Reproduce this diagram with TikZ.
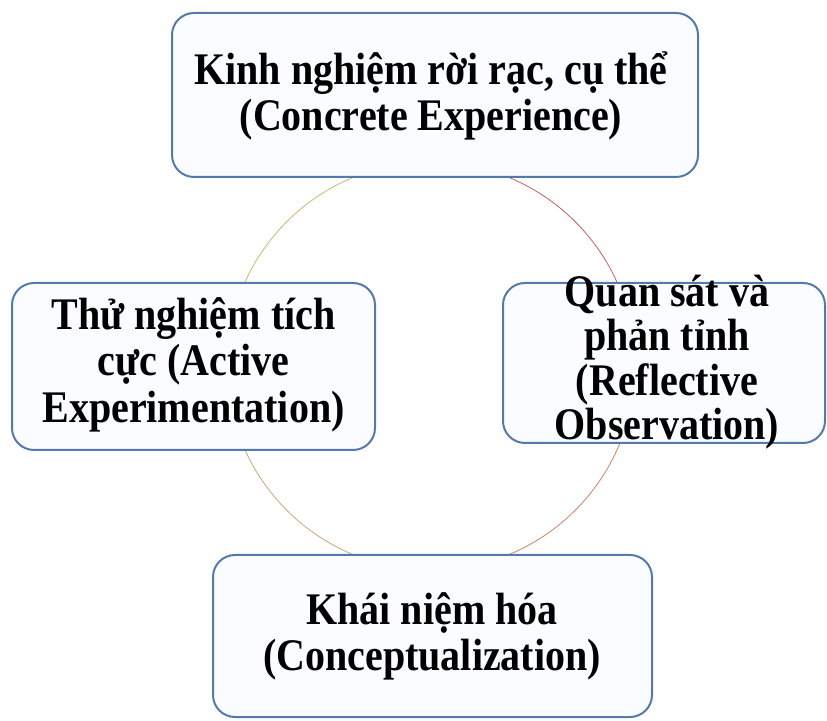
\documentclass[tikz,border=0pt]{standalone}
\usepackage{fontspec}
\setmainfont{Liberation Serif}
\usetikzlibrary{calc}
\definecolor{boxblue}{RGB}{84,122,172}
\definecolor{boxfill}{RGB}{250,252,255}
\definecolor{arcolive}{RGB}{196,186,110}
\definecolor{arcred}{RGB}{196,96,96}
\definecolor{arcorange}{RGB}{206,130,96}
\definecolor{arctan}{RGB}{196,168,120}
\newcommand{\tallbox}[2][41]{\fontsize{40}{#1}\selectfont\scalebox{1}[1.13]{\begin{tabular}{@{}c@{}}#2\end{tabular}}}
\tikzset{
  box/.style={draw=boxblue, line width=2pt, rounded corners=22pt, fill=boxfill, inner sep=0pt},
  txt/.style={inner sep=0pt, font=\bfseries}
}

\begin{document}
\begin{tikzpicture}[x=1pt,y=1pt]
		%%%%% START %%%%%
		\useasboundingbox (0,0) rectangle (827,720);
		
		\coordinate (cc) at (431,354);
		\draw[line width=0.8pt, color=arcred] (cc) ++(0:204) arc (0:90:204);
		\draw[line width=0.8pt, color=arcolive] (cc) ++(90:204) arc (90:180:204);
		\draw[line width=0.8pt, color=arctan] (cc) ++(180:204) arc (180:270:204);
		\draw[line width=0.8pt, color=arcorange] (cc) ++(270:204) arc (270:360:204);
		
		\node[box, minimum width=526pt, minimum height=164pt] (conc) at (435,625) {};
		\node[txt] (conct) at (431,622) {\tallbox{Kinh nghiệm rời rạc, cụ thể\\(Concrete Experience)}};
		
		\node[box, minimum width=363pt, minimum height=167pt] (acti) at (193.5,353.5) {};
		\node[txt] (actit) at (acti.center) {\tallbox{Thử nghiệm tích\\cực (Active\\Experimentation)}};
		
		\node[box, minimum width=322pt, minimum height=160pt] (refl) at (664,357) {};
		\node[txt] (reflt) at (667,356) {\tallbox[38]{Quan sát và\\phản tỉnh\\(Reflective\\Observation)}};
		
		\node[box, minimum width=439pt, minimum height=162pt] (conp) at (432.5,84) {};
		\node[txt] (conpt) at (432,82) {\tallbox{Khái niệm hóa\\(Conceptualization)}};
		
		%%%%% END %%%%%
	\end{tikzpicture}
\end{document}
